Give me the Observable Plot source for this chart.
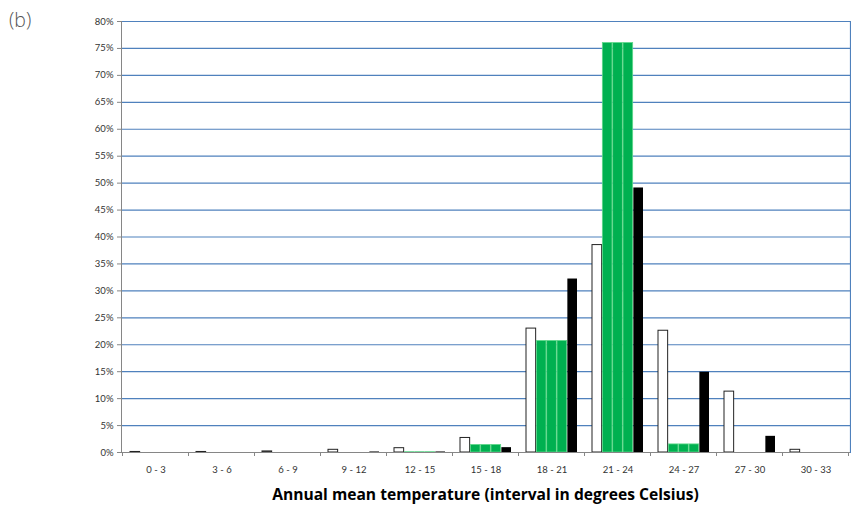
<!DOCTYPE html>
<html>
<head>
<meta charset="utf-8">
<script src="https://cdn.jsdelivr.net/npm/d3@7"></script>
<script src="https://cdn.jsdelivr.net/npm/@observablehq/plot@0.6"></script>
<style>
  body { margin: 0; background: #fff; font-family: Lato, "Open Sans", sans-serif; }
  #wrap { position: relative; width: 851px; height: 509px; }
  #tag { position: absolute; left: 9px; top: 6px; font-family: "Open Sans", sans-serif; font-weight: 300; font-size: 19.5px; color: #555; }
  #xtitle { padding: 6px 1px 0 121px; text-align: center; font-family: "Open Sans", sans-serif; font-weight: bold; font-size: 15.6px; line-height: 21px; color: #000; }
</style>
</head>
<body>
<div id="wrap">
  <div id="chart"></div>
  <div id="xtitle">Annual mean temperature (interval in degrees Celsius)</div>
  <div id="tag">(b)</div>
</div>
<script>
// Temperature intervals (degrees Celsius)
const categories = ["0 - 3", "3 - 6", "6 - 9", "9 - 12", "12 - 15", "15 - 18",
                    "18 - 21", "21 - 24", "24 - 27", "27 - 30", "30 - 33"];

// Share of area per interval (%), one array per series
const whiteValues  = [0.1, 0.1, 0.2, 0.5, 0.8, 2.7, 23.0, 38.5, 22.6, 11.3, 0.5];
const greenValuesA = [0, 0, 0, 0, 0.05, 1.4, 20.7, 76.0, 1.5, 0, 0];
const greenValuesB = [0, 0, 0, 0, 0.05, 1.4, 20.7, 76.0, 1.5, 0, 0];
const greenValuesC = [0, 0, 0, 0, 0.05, 1.4, 20.7, 76.0, 1.5, 0, 0];
const blackValues  = [0, 0, 0, 0.1, 0.1, 0.9, 32.2, 49.1, 14.9, 3.0, 0];

const seriesKeys = ["white", "greenA", "greenB", "greenC", "black"];
const seriesValues = [whiteValues, greenValuesA, greenValuesB, greenValuesC, blackValues];

// y-axis ticks (percent)
const yTicks = d3.range(0, 81, 5);

const table = categories.flatMap((category, i) =>
  seriesKeys.map((series, s) => ({category, series, value: seriesValues[s][i]}))
);

const W = 851, H = 478, mLeft = 121, mRight = 1, mTop = 21, mBottom = 26;
const xOptions = {type: "band", domain: categories, range: [mLeft, W - mRight], paddingInner: 0.22, paddingOuter: 0.11};

// Each category band holds the five series side by side
const slot = Plot.scale({x: xOptions}).bandwidth / seriesKeys.length;

const gridBlue = "#4f81bd";
const axisGray = "#868686";
const seriesStyle = {
  white:  {fill: "#fff", stroke: "#222", strokeWidth: 1},
  greenA: {fill: "#00b050", stroke: "#5fd88a", strokeWidth: 0.8},
  greenB: {fill: "#00b050", stroke: "#5fd88a", strokeWidth: 0.8},
  greenC: {fill: "#00b050", stroke: "#5fd88a", strokeWidth: 0.8},
  black:  {fill: "#000"}
};

const bars = seriesKeys.map((key, s) =>
  Plot.barY(table.filter(d => d.series === key), {
    x: "category", y: "value",
    insetLeft: s * slot, insetRight: (seriesKeys.length - 1 - s) * slot,
    ...seriesStyle[key]
  })
);

const plot = Plot.plot({
  width: W,
  height: H,
  marginTop: mTop,
  marginBottom: mBottom,
  marginLeft: mLeft,
  marginRight: mRight,
  style: {fontFamily: "Lato, 'Open Sans', sans-serif", fontSize: "9.5px", color: "#333", background: "#fff"},
  x: {domain: categories, paddingInner: 0.22, paddingOuter: 0.11, label: null},
  y: {domain: [0, 80], label: null},
  marks: [
    Plot.gridY(yTicks.filter(d => d > 0), {stroke: gridBlue, strokeOpacity: 1, strokeWidth: 1.2}),
    Plot.frame({anchor: "right", stroke: gridBlue, strokeWidth: 1.2}),
    ...bars,
    Plot.ruleY([0], {stroke: axisGray, strokeWidth: 1}),
    Plot.frame({anchor: "left", stroke: axisGray, strokeWidth: 1}),
    Plot.axisY({ticks: yTicks, tickFormat: d => d + "%", tickSize: 4, tickPadding: 4, stroke: axisGray, label: null, fontSize: 9.5}),
    Plot.axisX({tickSize: 0, tickPadding: 14, label: null, fontSize: 9.5})
  ]
});

// Tick marks on the category boundaries of the bottom axis
const xs = plot.scale("x");
const ys = plot.scale("y");
const gap = xs.step - xs.bandwidth;
const edges = categories.map(c => xs.apply(c) - gap / 2)
  .concat(xs.apply(categories[categories.length - 1]) + xs.bandwidth + gap / 2);
const y0 = ys.apply(0);
d3.select(plot).append("g")
  .attr("stroke", axisGray)
  .selectAll("line")
  .data(edges)
  .join("line")
  .attr("x1", d => d).attr("x2", d => d)
  .attr("y1", y0).attr("y2", y0 + 4);

document.getElementById("chart").appendChild(plot);
</script>
</body>
</html>
